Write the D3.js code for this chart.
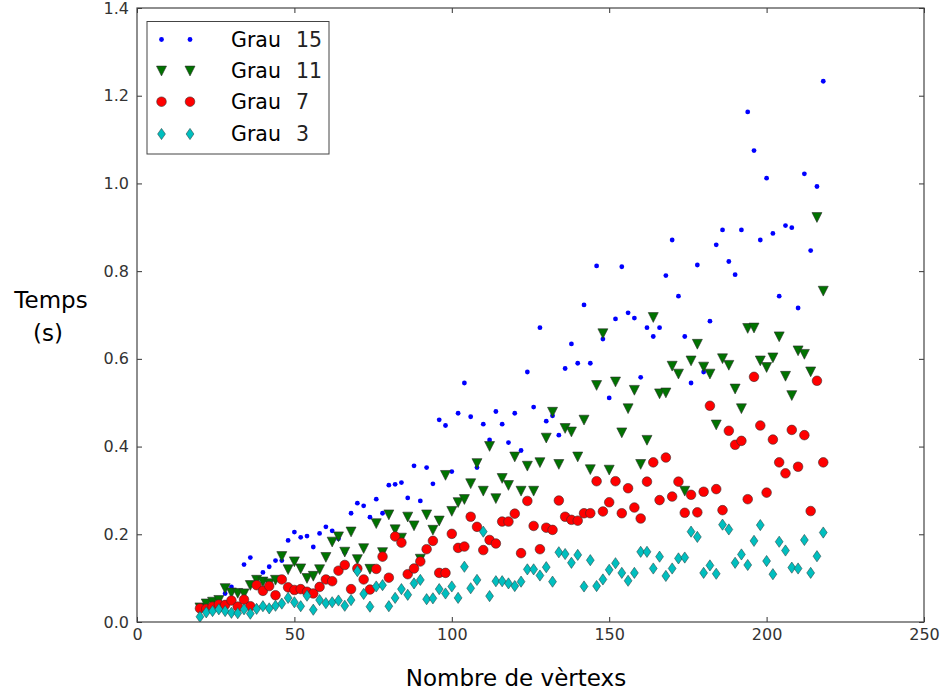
<!DOCTYPE html>
<html>
<head>
<meta charset="utf-8">
<script src="https://cdn.jsdelivr.net/npm/d3@7/dist/d3.min.js"></script>
<style>
  html, body { margin: 0; padding: 0; background: #fff; }
  svg { display: block; font-family: "DejaVu Sans", sans-serif; }
</style>
</head>
<body>
<svg id="chart" width="943" height="692"></svg>
<script>
// ---- data ----
const vertices = d3.range(20, 220, 2); // 20,22,...,218

const grau15 = [0.030,0.035,0.040,0.050,0.065,0.080,0.070,0.131,0.147,0.100,
                0.113,0.126,0.140,0.140,0.186,0.205,0.193,0.196,0.171,0.202,
                0.217,0.208,0.190,0.159,0.248,0.271,0.265,0.239,0.280,0.248,
                0.312,0.314,0.318,0.283,0.356,0.276,0.352,0.315,0.461,0.448,
                0.343,0.476,0.545,0.468,0.352,0.451,0.415,0.480,0.451,0.409,
                0.476,0.391,0.570,0.490,0.671,0.458,0.470,0.426,0.578,0.634,
                0.590,0.723,0.590,0.812,0.645,0.511,0.691,0.810,0.705,0.693,
                0.558,0.671,0.651,0.671,0.790,0.871,0.743,0.651,0.545,0.814,
                0.570,0.686,0.860,0.894,0.822,0.792,0.894,1.163,1.075,0.871,
                1.012,0.886,0.743,0.904,0.899,0.716,1.022,0.847,0.993,1.233];

const grau11 = [0.033,0.042,0.046,0.050,0.077,0.067,0.066,0.065,0.084,0.096,
                0.092,0.088,0.096,0.150,0.120,0.138,0.122,0.100,0.105,0.120,
                0.148,0.183,0.195,0.160,0.206,0.143,0.168,0.121,0.225,0.159,
                0.245,0.211,0.192,0.240,0.220,0.144,0.245,0.210,0.231,0.335,
                0.253,0.273,0.280,0.316,0.362,0.299,0.401,0.282,0.328,0.312,
                0.377,0.299,0.356,0.299,0.364,0.420,0.479,0.360,0.442,0.434,
                0.377,0.461,0.348,0.540,0.658,0.347,0.548,0.432,0.487,0.529,
                0.360,0.415,0.695,0.521,0.523,0.584,0.566,0.299,0.596,0.634,
                0.582,0.566,0.450,0.601,0.586,0.532,0.487,0.670,0.671,0.596,
                0.581,0.603,0.651,0.561,0.517,0.619,0.611,0.571,0.923,0.755];

const grau7 = [0.031,0.030,0.035,0.040,0.039,0.049,0.035,0.051,0.036,0.084,
               0.071,0.082,0.061,0.097,0.079,0.073,0.075,0.069,0.065,0.080,
               0.097,0.093,0.117,0.130,0.075,0.122,0.097,0.074,0.121,0.149,
               0.101,0.195,0.181,0.109,0.122,0.138,0.166,0.185,0.112,0.112,
               0.201,0.169,0.172,0.240,0.217,0.164,0.187,0.179,0.229,0.229,
               0.247,0.157,0.276,0.219,0.166,0.215,0.210,0.277,0.240,0.233,
               0.231,0.248,0.248,0.321,0.252,0.273,0.321,0.248,0.305,0.261,
               0.236,0.320,0.364,0.278,0.375,0.286,0.320,0.249,0.290,0.250,
               0.297,0.493,0.303,0.255,0.436,0.404,0.413,0.280,0.559,0.448,
               0.295,0.416,0.364,0.339,0.438,0.354,0.426,0.253,0.550,0.364];

const grau3 = [0.012,0.022,0.025,0.029,0.025,0.021,0.020,0.029,0.019,0.030,
               0.036,0.031,0.037,0.042,0.055,0.045,0.036,0.060,0.028,0.050,
               0.043,0.045,0.049,0.037,0.050,0.116,0.064,0.035,0.081,0.084,
               0.036,0.055,0.075,0.062,0.088,0.096,0.052,0.054,0.075,0.065,
               0.081,0.055,0.126,0.077,0.096,0.206,0.059,0.093,0.093,0.088,
               0.082,0.092,0.120,0.120,0.106,0.125,0.092,0.159,0.155,0.135,
               0.153,0.081,0.141,0.082,0.097,0.119,0.134,0.112,0.094,0.112,
               0.160,0.160,0.122,0.149,0.105,0.122,0.145,0.147,0.206,0.194,
               0.112,0.129,0.110,0.222,0.211,0.135,0.154,0.130,0.185,0.221,
               0.139,0.109,0.183,0.163,0.124,0.122,0.187,0.112,0.150,0.204];

const seriesNames = ["Grau", "Grau", "Grau", "Grau"];
const seriesDegrees = ["15", "11", "7", "3"];
const xTicks = [0, 50, 100, 150, 200, 250];
const yTicks = [0.0, 0.2, 0.4, 0.6, 0.8, 1.0, 1.2, 1.4];

// ---- layout ----
const svg = d3.select("#chart");
const L = 137, R = 924, T = 8, B = 622;
const x = d3.scaleLinear().domain([0, 250]).range([L, R]);
const y = d3.scaleLinear().domain([0, 1.4]).range([B, T]);

const styles = [
  {data: grau15, shape: "dot",  fill: "#0000ff", stroke: "none"},
  {data: grau11, shape: "tri",  fill: "#007300", stroke: "#2a2a2a"},
  {data: grau7,  shape: "circ", fill: "#ff0000", stroke: "#3a2a2a"},
  {data: grau3,  shape: "diam", fill: "#00bfbf", stroke: "#2a4a4a"}
];

function drawMarker(g, shape, cx, cy, st) {
  if (shape === "dot") {
    g.append("circle").attr("cx", cx).attr("cy", cy).attr("r", 2.4).attr("fill", st.fill);
  } else if (shape === "circ") {
    g.append("circle").attr("cx", cx).attr("cy", cy).attr("r", 4.8)
      .attr("fill", st.fill).attr("stroke", st.stroke).attr("stroke-width", 0.6);
  } else if (shape === "tri") {
    const w = 5, h = 4.6;
    g.append("path")
      .attr("d", `M${cx - w},${cy - h} L${cx + w},${cy - h} L${cx},${cy + h + 0.6} Z`)
      .attr("fill", st.fill).attr("stroke", st.stroke).attr("stroke-width", 0.6);
  } else if (shape === "diam") {
    const w = 3.9, h = 5.6;
    g.append("path")
      .attr("d", `M${cx},${cy - h} L${cx + w},${cy} L${cx},${cy + h} L${cx - w},${cy} Z`)
      .attr("fill", st.fill).attr("stroke", st.stroke).attr("stroke-width", 0.6);
  }
}

// clip
svg.append("defs").append("clipPath").attr("id", "clip")
  .append("rect").attr("x", L).attr("y", T).attr("width", R - L).attr("height", B - T);

const plot = svg.append("g").attr("clip-path", "url(#clip)");
styles.forEach(st => {
  const g = plot.append("g");
  st.data.forEach((v, i) => drawMarker(g, st.shape, x(vertices[i]), y(v), st));
});

// axes (ticks inside, on all sides)
const tickColor = "#333";
const axB = d3.axisBottom(x).tickValues(xTicks).tickSizeInner(-5).tickSizeOuter(0).tickPadding(7).tickFormat(d3.format("d"));
const axT = d3.axisTop(x).tickValues(xTicks).tickSizeInner(-5).tickSizeOuter(0).tickFormat("");
const axLft = d3.axisLeft(y).tickValues(yTicks).tickSizeInner(-5).tickSizeOuter(0).tickPadding(8).tickFormat(d3.format(".1f"));
const axRgt = d3.axisRight(y).tickValues(yTicks).tickSizeInner(-5).tickSizeOuter(0).tickFormat("");

function styleAxis(g) {
  g.select(".domain").remove();
  g.selectAll(".tick line").attr("stroke", tickColor).attr("stroke-width", 1);
  g.selectAll(".tick text").attr("fill", "#333").style("font-size", "16px")
    .style("font-family", "'DejaVu Sans', sans-serif");
}
svg.append("g").attr("transform", `translate(0,${B})`).call(axB).call(styleAxis);
svg.append("g").attr("transform", `translate(0,${T})`).call(axT).call(styleAxis);
svg.append("g").attr("transform", `translate(${L},0)`).call(axLft).call(styleAxis);
svg.append("g").attr("transform", `translate(${R},0)`).call(axRgt).call(styleAxis);

// frame
svg.append("rect").attr("x", L).attr("y", T).attr("width", R - L).attr("height", B - T)
  .attr("fill", "none").attr("stroke", "#444").attr("stroke-width", 1.2);

// axis labels
svg.append("text").attr("x", 51).attr("y", 308).attr("text-anchor", "middle")
  .style("font-size", "23px").attr("fill", "#000").text("Temps");
svg.append("text").attr("x", 48).attr("y", 341).attr("text-anchor", "middle")
  .style("font-size", "23px").attr("fill", "#000").text("(s)");
svg.append("text").attr("x", 516).attr("y", 686).attr("text-anchor", "middle")
  .style("font-size", "23px").attr("fill", "#000").text("Nombre de vèrtexs");

// legend
const leg = svg.append("g");
leg.append("rect").attr("x", 147).attr("y", 21.5).attr("width", 182).attr("height", 132.5)
  .attr("fill", "#fff").attr("stroke", "#444").attr("stroke-width", 1);
const rowY = [39.5, 70.7, 101.7, 134];
styles.forEach((st, i) => {
  drawMarker(leg, st.shape, 161.5, rowY[i], st);
  drawMarker(leg, st.shape, 190, rowY[i], st);
  leg.append("text").attr("x", 231).attr("y", rowY[i] + 7).style("font-size", "20.5px")
    .attr("fill", "#000").text(seriesNames[i]);
  leg.append("text").attr("x", 296).attr("y", rowY[i] + 7).style("font-size", "20.5px")
    .attr("fill", "#222").text(seriesDegrees[i]);
});
</script>
</body>
</html>
